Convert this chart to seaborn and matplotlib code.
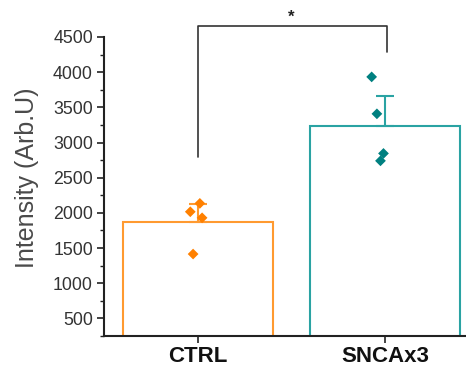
import matplotlib
matplotlib.use("Agg")
import matplotlib.pyplot as plt
from matplotlib.ticker import MultipleLocator
import seaborn as sns
import pandas as pd
import numpy as np

categories = ["CTRL", "SNCAx3"]
ctrl_values = [2135, 2016, 1930, 1415]
snca_values = [3933, 3408, 2845, 2740]
ctrl_jitter = [0.011, -0.04, 0.023, -0.025]
snca_jitter = [-0.073, -0.045, -0.01, -0.026]
upper_err = [256, 424]
yticks = [500, 1000, 1500, 2000, 2500, 3000, 3500, 4000, 4500]
sig_label = "*"
bracket_levels = [2793, 4658, 4284]

bar_colors = ["#FF9A30", "#2AA3A3"]
pt_colors = ["#FF8000", "#008080"]

sns.set_style("ticks")
plt.rcParams['font.family'] = ['Liberation Sans', 'DejaVu Sans']

df = pd.DataFrame({
    "group": [categories[0]] * len(ctrl_values) + [categories[1]] * len(snca_values),
    "value": ctrl_values + snca_values,
})
df["xpos"] = [0 + j for j in ctrl_jitter] + [1 + j for j in snca_jitter]

fig = plt.figure(figsize=(4.66, 3.67), dpi=100)
ax = fig.add_axes([104/466, 1 - 336/367, 1 - 104/466, (336 - 37)/367])

sns.barplot(data=df, x="group", y="value", order=categories, errorbar=None,
            fill=False, width=0.8, ax=ax, linewidth=1.5)
for patch, c in zip(ax.patches, bar_colors):
    patch.set_edgecolor(c)
    patch.set_facecolor("none")
    patch.set_linewidth(1.5)

means = df.groupby("group")["value"].mean().reindex(categories).values
for i, (m, e) in enumerate(zip(means, upper_err)):
    ax.errorbar(i, m, yerr=[[0], [e]], color=bar_colors[i], capsize=6.5,
                elinewidth=1.5, capthick=1.5, fmt="none", zorder=3)

pal = dict(zip(categories, pt_colors))
sns.scatterplot(data=df, x="xpos", y="value", hue="group", palette=pal,
                marker="D", s=30, edgecolor="none", legend=False, ax=ax, zorder=4)

ax.set_xlim(-0.5, 1.43)
ax.set_ylim(250, 4500)
ax.set_xticks(range(len(categories)))
ax.set_xticklabels(categories, fontsize=16, fontweight="bold", color="#111111")
ax.set_yticks(yticks)
ax.set_yticklabels([str(t) for t in yticks], fontsize=12.8, color="#333333")
ax.yaxis.set_minor_locator(MultipleLocator(250))
ax.tick_params(axis="y", which="major", length=5, width=1.2, color="#222222", pad=3)
ax.tick_params(axis="y", which="minor", length=3, width=1.0, color="#222222")
ax.tick_params(axis="x", which="major", length=5, width=1.2, color="#222222", pad=2)
ax.set_xlabel("")
ax.set_ylabel("Intensity (Arb.U)", fontsize=18, color="#4a4a4a")
ax.yaxis.set_label_coords(-0.18, 0.53)
for s in ["top", "right"]:
    ax.spines[s].set_visible(False)
for s in ["left", "bottom"]:
    ax.spines[s].set_linewidth(1.5)
    ax.spines[s].set_color("#222222")

# significance bracket
ax.plot([0, 0, 1.01, 1.01], [bracket_levels[0], bracket_levels[1], bracket_levels[1], bracket_levels[2]],
        color="#333333", lw=1.2, clip_on=False)
ax.text(0.5, bracket_levels[1] + 20, sig_label, ha="center", va="bottom",
        fontsize=12, fontweight="bold", color="#222222")

fig.savefig("out.png", dpi=100)
